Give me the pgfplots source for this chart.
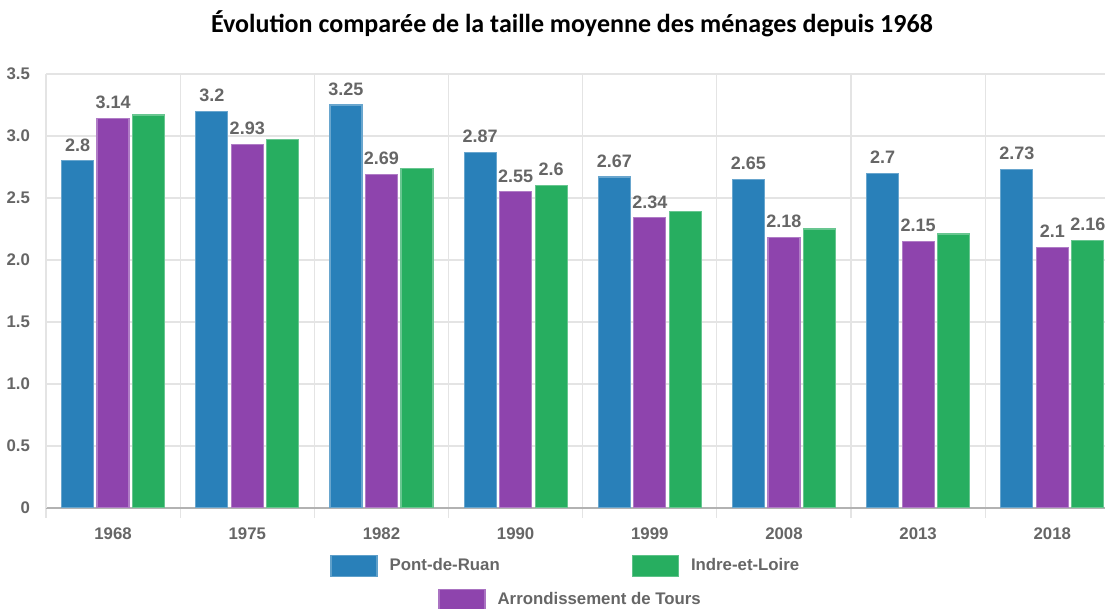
\documentclass[border=0pt]{standalone}
\usepackage{fontspec}
\setmainfont{Liberation Sans}
\newfontfamily\titlefont{Carlito}
\usepackage{pgfplots}
\pgfplotsset{compat=1.18}

\definecolor{cpont}{HTML}{2980B9}
\definecolor{carr}{HTML}{8E44AD}
\definecolor{cindre}{HTML}{27AE60}
\definecolor{txtgray}{HTML}{666666}
\definecolor{gridgray}{HTML}{E4E4E4}

% annees : 0 = 1968 ... 7 = 2018
\pgfplotstableread{
x pont arr indre
0 2.80 3.14 3.17
1 3.20 2.93 2.97
2 3.25 2.69 2.74
3 2.87 2.55 2.60
4 2.67 2.34 2.39
5 2.65 2.18 2.25
6 2.70 2.15 2.21
7 2.73 2.10 2.16
}\menages
% seules valeurs affichees pour Indre-et-Loire
\pgfplotstableread{
x indre
3 2.60
7 2.16
}\indrelab

\pgfplotsset{
  boxlegend/.style={legend image code/.code={
    \draw[#1!75!white, fill=#1, line width=0.6pt] (0pt,-5.25pt) rectangle (23pt,5.25pt);}},
  barstyle/.style 2 args={ybar, bar width=16pt, bar shift=#2, fill=#1, draw=#1!70!white,
    line width=0.6pt, every node near coord/.append style={xshift=#2}},
}

\begin{document}
\begin{tikzpicture}
\begin{axis}[
    name=main,
    scale only axis,
    width=530pt, height=217pt,
    xmin=-0.5, xmax=7.4,
    ymin=0, ymax=3.5,
    xtick={0,...,7},
    xticklabels={1968,1975,1982,1990,1999,2008,2013,2018},
    minor xtick={-0.5,0.5,...,7.5},
    ytick={0,0.5,...,3.5},
    yticklabels={0,0.5,1.0,1.5,2.0,2.5,3.0,3.5},
    xminorgrids, ymajorgrids,
    grid style={gridgray, line width=0.6pt},
    minor grid style={gridgray, line width=0.6pt},
    axis x line*=bottom, axis y line*=left,
    x axis line style={draw=gray!60, line width=0.8pt, -},
    y axis line style={draw=gridgray, line width=0.6pt, -},
    tick align=outside,
    major tick length=5.5pt, minor tick length=5pt,
    major x tick style={draw=none},
    minor x tick style={gridgray, line width=0.6pt},
    ytick style={draw=none},
    tick label style={font=\bfseries\fontsize{8.4}{10}\selectfont, text=txtgray},
    xticklabel style={yshift=-1pt},
    yticklabel style={xshift=1pt},
    /pgf/number format/assume math mode=true,
    title={\titlefont\bfseries\fontsize{13}{15}\selectfont Évolution comparée de la taille moyenne des ménages depuis 1968},
    title style={at={(0.5,1)}, anchor=center, yshift=19pt, xshift=-2pt},
    legend columns=2,
    legend style={at={(0.268,-0.1336)}, anchor=west, draw=none, fill=none,
      inner sep=0pt, font=\bfseries\fontsize{8.4}{10}\selectfont, text=txtgray,
      /tikz/every odd column/.append style={column sep=4pt},
      /tikz/every even column/.append style={column sep=64pt}},
    every node near coord/.append style={font=\bfseries\fontsize{9}{10}\selectfont,
      text=txtgray, inner sep=0pt, anchor=south, yshift=4.5pt},
]
\addplot[barstyle={cpont}{-17.75pt}, nodes near coords, forget plot]
  table[x=x, y=pont] {\menages};
\addplot[barstyle={carr}{0pt}, nodes near coords, forget plot]
  table[x=x, y=arr] {\menages};
\addplot[barstyle={cindre}{17.75pt}, forget plot]
  table[x=x, y=indre] {\menages};
\addplot[barstyle={cindre}{17.75pt}, nodes near coords, forget plot]
  table[x=x, y=indre] {\indrelab};
\addlegendimage{boxlegend=cpont}
\addlegendentry{Pont-de-Ruan}
\addlegendimage{boxlegend=cindre}
\addlegendentry{Indre-et-Loire}
\end{axis}
\begin{axis}[
    scale only axis, hide axis,
    width=530pt, height=217pt,
    xmin=0, xmax=1, ymin=0, ymax=1,
    legend style={at={(0.3698,-0.2120)}, anchor=west, draw=none, fill=none,
      inner sep=0pt, font=\bfseries\fontsize{8.4}{10}\selectfont, text=txtgray,
      /tikz/every odd column/.append style={column sep=4pt}},
]
\addlegendimage{boxlegend=carr}
\addlegendentry{Arrondissement de Tours}
\end{axis}
\pgfresetboundingbox
\path (main.south west) ++(-23pt,-50.5pt) rectangle ++(552.5pt,304.5pt);
\end{tikzpicture}
\end{document}
